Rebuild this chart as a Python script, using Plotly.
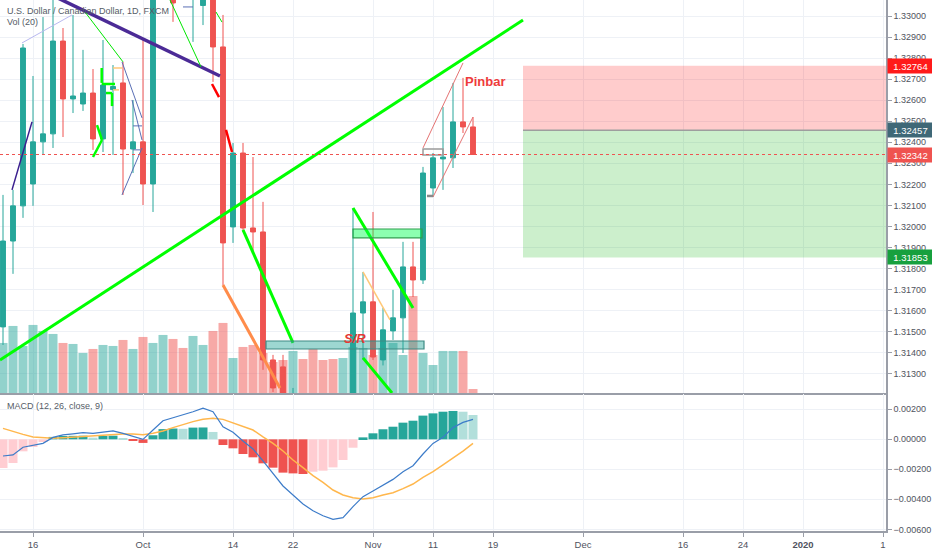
import pandas as pd
import plotly.graph_objects as go

# ---------------- data ----------------
days = pd.bdate_range("2019-09-11", "2020-01-31")   # daily bars (bar index 0 = 2019-09-11)
n_bars = 48                                          # 2019-09-11 .. 2019-11-15

opens = [1.31523, 1.31931, 1.32098, 1.32202, 1.32402, 1.32440, 1.32881, 1.32606, 1.32582, 1.32634,
         1.32416, 1.32650, 1.32682, 1.32368, 1.32402, 1.32202, 1.33150, 1.33200, 1.33300, 1.33100,
         1.33050, 1.33200, 1.32853, 1.31998, 1.32349, 1.31993, 1.31974, 1.31366, 1.31333, 1.30950,
         1.31150, 1.30850, 1.30700, 1.30650, 1.30580, 1.30600, 1.31589, 1.31642, 1.31366, 1.31504,
         1.31566, 1.31808, 1.31746, 1.32183, 1.32321, 1.32326, 1.32497, 1.32473]
highs = [1.32150, 1.32174, 1.32867, 1.32715, 1.32995, 1.33100, 1.32943, 1.33005, 1.32839, 1.32748,
         1.32886, 1.32767, 1.32782, 1.32601, 1.32886, 1.33350, 1.33400, 1.33300, 1.33350, 1.33300,
         1.33280, 1.33300, 1.33005, 1.32397, 1.32397, 1.32330, 1.32117, 1.31390, 1.31390, 1.31233,
         1.31180, 1.31000, 1.30850, 1.30800, 1.30900, 1.32088, 1.31784, 1.32069, 1.31613, 1.31699,
         1.31927, 1.31927, 1.32283, 1.32349, 1.32568, 1.32682, 1.32706, 1.32520]
lows = [1.31437, 1.31775, 1.32041, 1.32098, 1.32340, 1.32373, 1.32425, 1.32539, 1.32549, 1.32364,
        1.32354, 1.32340, 1.32150, 1.32254, 1.32102, 1.32069, 1.33110, 1.32972, 1.33100, 1.32877,
        1.32957, 1.32687, 1.31722, 1.31922, 1.31974, 1.31874, 1.31319, 1.31214, 1.31050, 1.30880,
        1.30800, 1.30620, 1.30550, 1.30450, 1.30400, 1.30500, 1.31366, 1.31366, 1.31340, 1.31461,
        1.31399, 1.31665, 1.31727, 1.32140, 1.32174, 1.32278, 1.32444, 1.32340]
closes = [1.31931, 1.32098, 1.32848, 1.32402, 1.32440, 1.32881, 1.32606, 1.32620, 1.32634, 1.32416,
          1.32672, 1.32665, 1.32368, 1.32402, 1.32202, 1.33250, 1.33300, 1.33062, 1.33150, 1.33200,
          1.33180, 1.32853, 1.31922, 1.32349, 1.31993, 1.31974, 1.31366, 1.31233, 1.31100, 1.31150,
          1.30850, 1.30700, 1.30650, 1.30580, 1.30600, 1.31589, 1.31642, 1.31380, 1.31509, 1.31566,
          1.31808, 1.31746, 1.32254, 1.32326, 1.32330, 1.32497, 1.32473, 1.32342]
volume_k = [50, 67, 47, 68, 62, 59, 50, 49, 40, 44, 48, 47, 53, 44, 56, 50, 58, 54, 45, 57,
            48, 62, 70, 35, 46, 48, 40, 31, 33, 42, 34, 44, 33, 34, 35, 46, 45, 38, 45, 50,
            38, 97, 40, 28, 42, 42, 42, 4]
macd_line = [-0.00111, -0.00104, -0.00053, -0.00042, -0.00027, 0.00013, 0.00029, 0.00036, 0.00044, 0.00040,
             0.00047, 0.00056, 0.00040, 0.00022, 0.00000, 0.00062, 0.00124, 0.00144, 0.00162, 0.00184,
             0.00207, 0.00184, 0.00084, 0.00047, -0.00011, -0.00064, -0.00144, -0.00227, -0.00311, -0.00371,
             -0.00431, -0.00476, -0.00509, -0.00533, -0.00522, -0.00449, -0.00382, -0.00344, -0.00307, -0.00267,
             -0.00216, -0.00176, -0.00098, -0.00027, 0.00013, 0.00078, 0.00113, 0.00133]
signal_line = [0.00073, 0.00051, 0.00033, 0.00016, 0.00009, 0.00007, 0.00011, 0.00016, 0.00020, 0.00024,
               0.00029, 0.00033, 0.00036, 0.00036, 0.00031, 0.00040, 0.00056, 0.00078, 0.00100, 0.00118,
               0.00133, 0.00140, 0.00133, 0.00111, 0.00089, 0.00062, 0.00016, -0.00027, -0.00078, -0.00138,
               -0.00189, -0.00242, -0.00287, -0.00338, -0.00371, -0.00389, -0.00398, -0.00389, -0.00371, -0.00356,
               -0.00329, -0.00298, -0.00253, -0.00216, -0.00171, -0.00127, -0.00078, -0.00027]
macd_hist = [-0.00191, -0.00158, -0.00080, -0.00051, -0.00018, 0.00016, 0.00022, 0.00023, 0.00024, 0.00011,
             0.00022, 0.00024, 0.00004, -0.00009, -0.00024, 0.00027, 0.00068, 0.00072, 0.00070, 0.00078,
             0.00079, 0.00049, -0.00038, -0.00060, -0.00098, -0.00120, -0.00160, -0.00189, -0.00222, -0.00227,
             -0.00231, -0.00216, -0.00209, -0.00187, -0.00138, -0.00056, 0.00013, 0.00040, 0.00067, 0.00084,
             0.00111, 0.00124, 0.00158, 0.00173, 0.00184, 0.00189, 0.00184, 0.00162]

tick_dates = ["2019-09-16", "2019-10-01", "2019-10-14", "2019-10-22", "2019-11-01", "2019-11-11",
              "2019-11-19", "2019-12-02", "2019-12-16", "2019-12-24", "2020-01-01", "2020-01-13"]
tick_labels = ["16", "Oct", "14", "22", "Nov", "11", "19", "Dec", "16", "24", "<b>2020</b>", "1"]

# short-position tool
entry_price = 1.32457
stop_price = 1.32764
target_price = 1.31853
position_start = 52.0           # bar index where the position tool starts

# drawings: (bar index, price) end points
trend_main = [(-0.3, 1.31366), (52.0, 1.32981)]
trend_purple = [(5.5, 1.33085), (21.7, 1.32715)]
thin_lime = [[(8.2, 1.33019), (12.0, 1.32782)], [(16.7, 1.33076), (19.8, 1.32758)], [(21.3, 1.33019), (21.9, 1.32971)]]
thin_lavender = [[(1.9, 1.32872), (6.9, 1.33005)]]
thin_blue = [[(11.9, 1.32782), (13.9, 1.32516)], [(12.9, 1.32601), (13.9, 1.32411)], [(11.9, 1.32150), (13.9, 1.32373)],
             [(13.0, 1.32478), (13.9, 1.32478)], [(13.0, 1.32364), (13.7, 1.32364)], [(18.0, 1.33043), (19.0, 1.33043)]]
short_purple = [[(0.9, 1.32174), (2.9, 1.32497)]]
small_lime = [[(9.4, 1.32482), (9.9, 1.32411)], [(9.9, 1.32411), (9.0, 1.32330)],
              [(9.87, 1.32753), (9.87, 1.32682)], [(9.87, 1.32677), (11.2, 1.32677)],
              [(10.3, 1.32634), (10.9, 1.32634)], [(10.9, 1.32634), (10.9, 1.32572)]]
small_orange = [[(11.0, 1.32753), (11.9, 1.32753)], [(11.0, 1.32649), (11.6, 1.32649)], [(36.0, 1.31784), (38.7, 1.31556)]]
red_curve = [[(20.9, 1.32677), (21.6, 1.32615)], [(22.3, 1.32459), (22.9, 1.32354)]]
orange_thick = [[(22.0, 1.31722), (27.7, 1.31233)]]
green_thick = [[(24.0, 1.31984), (29.0, 1.31447)], [(35.0, 1.32088), (41.0, 1.31613)], [(36.0, 1.31376), (38.9, 1.31209)]]
channel_red = [[(42.0, 1.32373), (46.0, 1.32777)], [(43.0, 1.32140), (47.0, 1.32520)]]
gray_tick = [[(42.4, 1.32145), (43.0, 1.32145)]]
sr_zone = [(26.3, 1.31418), (42.1, 1.31456)]
green_zone = [(35.0, 1.31946), (41.9, 1.31988)]
gray_box = [(42.0, 1.32340), (44.0, 1.32368)]
pinbar_label = (48.2, 1.32687)
sr_label = (35.2, 1.31466)

# ---------------- figure ----------------
x = list(range(n_bars))
tick_x = [days.get_loc(pd.Timestamp(d)) for d in tick_dates]
x_range = [-0.3, 88.3]
price_range = [1.31209, 1.33076]
macd_range = [-0.00611, 0.00302]

UP, DOWN = "#26a69a", "#ef5350"
vol_colors = ["rgba(38,166,154,0.5)" if c >= o else "rgba(239,83,80,0.5)" for o, c in zip(opens, closes)]
hist_colors = []
for i, h in enumerate(macd_hist):
    prev = macd_hist[i - 1] if i > 0 else h
    if h >= 0:
        hist_colors.append("#26a69a" if h >= prev else "#b2dfdb")
    else:
        hist_colors.append("#ef5350" if h < prev else "#ffcdd2")

fig = go.Figure()
fig.add_trace(go.Bar(x=x, y=volume_k, marker=dict(color=vol_colors, line=dict(width=0)), width=0.9,
                     xaxis="x", yaxis="y", hoverinfo="skip"))
fig.add_trace(go.Candlestick(x=x, open=opens, high=highs, low=lows, close=closes,
                             increasing=dict(line=dict(color=UP, width=1), fillcolor=UP),
                             decreasing=dict(line=dict(color=DOWN, width=1), fillcolor=DOWN),
                             whiskerwidth=0, xaxis="x", yaxis="y3", hoverinfo="skip"))
fig.add_trace(go.Bar(x=x, y=macd_hist, marker=dict(color=hist_colors, line=dict(width=0)), width=0.9,
                     xaxis="x2", yaxis="y2", hoverinfo="skip"))
fig.add_trace(go.Scatter(x=x, y=signal_line, mode="lines", line=dict(color="#ffb74d", width=1.5),
                         xaxis="x2", yaxis="y2", hoverinfo="skip"))
fig.add_trace(go.Scatter(x=x, y=macd_line, mode="lines", line=dict(color="#3d7cc9", width=1.2),
                         xaxis="x2", yaxis="y2", hoverinfo="skip"))

shapes = []


def seg(pts, color, width):
    (x0, y0), (x1, y1) = pts
    shapes.append(dict(type="line", xref="x", yref="y3", x0=x0, y0=y0, x1=x1, y1=y1,
                       line=dict(color=color, width=width)))


def rect(pts, fill, border, width=1):
    (x0, y0), (x1, y1) = pts
    shapes.append(dict(type="rect", xref="x", yref="y3", x0=x0, y0=y0, x1=x1, y1=y1,
                       fillcolor=fill, line=dict(color=border, width=width)))


# position tool
rect([(position_start, entry_price), (x_range[1], stop_price)], "rgba(255,0,0,0.2)", "rgba(0,0,0,0)", 0)
rect([(position_start, target_price), (x_range[1], entry_price)], "rgba(0,175,0,0.2)", "rgba(0,0,0,0)", 0)
seg([(position_start, entry_price), (x_range[1], entry_price)], "#9e9e9e", 1.5)

seg(trend_main, "#00ff00", 3)
seg(trend_purple, "#4b2a96", 3.5)
for s in thin_lime:
    seg(s, "#00e600", 1)
for s in thin_lavender:
    seg(s, "#b8b8f0", 1)
for s in thin_blue:
    seg(s, "#5a6fb5", 1)
for s in short_purple:
    seg(s, "#3b1f8f", 1.5)
for s in small_lime:
    seg(s, "#00ff00", 2.5)
for s in small_orange:
    seg(s, "#ffc878", 1.5)
for s in red_curve:
    seg(s, "#ff0000", 2.5)
for s in orange_thick:
    seg(s, "#ff8c4a", 3)
for s in green_thick:
    seg(s, "#00ff00", 3)
for s in channel_red:
    seg(s, "#e57373", 1)
for s in gray_tick:
    seg(s, "#8a8a8a", 2.5)
rect(sr_zone, "rgba(38,166,154,0.45)", "#3e8a84", 1.2)
rect(green_zone, "rgba(0,255,80,0.45)", "#2e9e4e", 1.2)
rect(gray_box, "rgba(255,255,255,0)", "#9a9a9a", 1.5)

# last price line
shapes.append(dict(type="line", xref="paper", yref="y3", x0=0, x1=1, y0=closes[-1], y1=closes[-1],
                   line=dict(color="#ef5350", width=1, dash="dot")))

FONT = "Liberation Sans, Arial, sans-serif"
legend_font = dict(family=FONT, size=9, color="#555c66")
annotations = [
    dict(x=pinbar_label[0], y=pinbar_label[1], xref="x", yref="y3", text="<b>Pinbar</b>", showarrow=False,
         font=dict(size=13, color="#ef3b3b")),
    dict(x=sr_label[0], y=sr_label[1], xref="x", yref="y3", text="<b><i>S/R</i></b>", showarrow=False,
         font=dict(size=13, color="#e53935")),
    dict(x=0.006, y=0.979, xref="paper", yref="paper", xanchor="left", yanchor="middle", showarrow=False,
         text="U.S. Dollar / Canadian Dollar, 1D, FXCM", font=legend_font),
    dict(x=0.006, y=0.9586, xref="paper", yref="paper", xanchor="left", yanchor="middle", showarrow=False,
         text="Vol (20)", font=legend_font),
    dict(x=0.006, y=0.2362, xref="paper", yref="paper", xanchor="left", yanchor="middle", showarrow=False,
         text="MACD (12, 26, close, 9)", font=legend_font),
]
for price, bg in [(stop_price, "#ff1a1a"), (entry_price, "#3f6877"), (closes[-1], "#ef5350"), (target_price, "#17a03e")]:
    annotations.append(dict(x=1, y=price, xref="paper", yref="y3", xanchor="left", yanchor="middle",
                            xshift=1, showarrow=False, text=f"{price:.5f}", bgcolor=bg, borderpad=1,
                            width=43, height=12, align="center",
                            font=dict(family=FONT, size=9.5, color="white")))

yaxis_font = dict(family=FONT, size=9, color="#50535e")
xaxis_font = dict(family=FONT, size=9.5, color="#50535e")
grid = "#eef1f6"
line_col = "#9a9ea8"
fig.update_layout(
    width=932, height=550,
    margin=dict(l=0, r=46, t=0, b=19, autoexpand=False),
    paper_bgcolor="white", plot_bgcolor="white",
    font=dict(family=FONT),
    showlegend=False, bargap=0.1,
    shapes=shapes, annotations=annotations,
    xaxis=dict(domain=[0, 1], anchor="y", range=x_range, tickvals=tick_x, ticktext=tick_labels,
               showticklabels=False, showgrid=True, gridcolor=grid, zeroline=False, automargin=False,
               showline=True, linecolor=line_col, linewidth=2, rangeslider=dict(visible=False)),
    yaxis=dict(domain=[0.2599, 1], range=[0, max(volume_k) / 0.247], visible=False, fixedrange=True,
               automargin=False),
    yaxis3=dict(overlaying="y", anchor="x", side="right", range=price_range, dtick=0.001, tick0=0,
                tickformat=".5f", showgrid=True, gridcolor=grid, zeroline=False, ticks="outside",
                ticklen=4, tickcolor=line_col, tickfont=yaxis_font, showline=True, linecolor=line_col,
                linewidth=1.5, automargin=False),
    xaxis2=dict(domain=[0, 1], anchor="y2", range=x_range, tickvals=tick_x, ticktext=tick_labels,
                showgrid=True, gridcolor=grid, zeroline=False, ticks="outside", ticklen=4, automargin=False,
                tickcolor=line_col, tickfont=xaxis_font, showline=True, linecolor=line_col, linewidth=1.5),
    yaxis2=dict(domain=[0, 0.258], anchor="x2", side="right", range=macd_range, dtick=0.002, tick0=0,
                tickformat=".5f", showgrid=True, gridcolor=grid, zeroline=False, ticks="outside",
                ticklen=4, tickcolor=line_col, tickfont=yaxis_font, showline=True, linecolor=line_col,
                linewidth=1.5, automargin=False),
)

# remove the page's default body margin so the 932x550 figure fills the window exactly
fig.write_html("out.html", config={"displayModeBar": False},
               post_script="document.body.style.margin='0';document.body.style.overflow='hidden';")
